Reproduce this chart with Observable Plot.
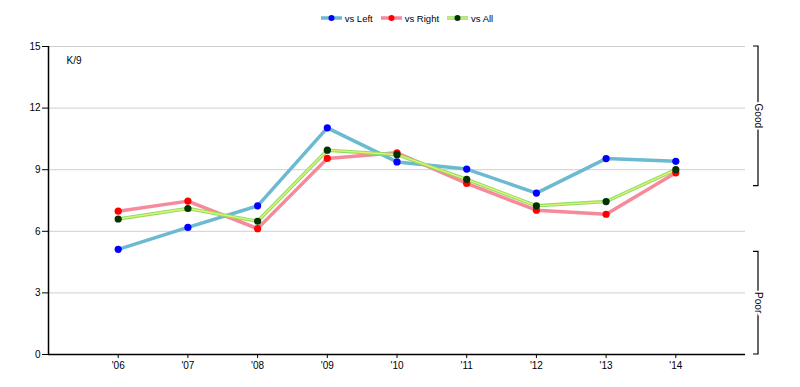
<!DOCTYPE html>
<html>
<head>
<meta charset="utf-8">
<script src="https://cdn.jsdelivr.net/npm/d3@7"></script>
<script src="https://cdn.jsdelivr.net/npm/@observablehq/plot@0.6"></script>
<style>
  body { margin: 0; background: #fff; font-family: "Liberation Sans", Arial, sans-serif; }
  #legend { height: 36px; display: flex; justify-content: center; align-items: center; padding-left: 14px; box-sizing: border-box; font-size: 9.5px; color: #000; }
  .item { display: flex; align-items: center; margin: 0 4px; }
  .item svg { margin-right: 3px; }
</style>
</head>
<body>
<div id="legend"></div>
<div id="chart"></div>
<script>
const years = [2006, 2007, 2008, 2009, 2010, 2011, 2012, 2013, 2014];
const vsLeft  = [5.12, 6.19, 7.24, 11.04, 9.38, 9.03, 7.86, 9.54, 9.41];
const vsRight = [6.98, 7.47, 6.13, 9.55, 9.82, 8.33, 7.03, 6.83, 8.85];
const vsAll   = [6.60, 7.11, 6.49, 9.95, 9.73, 8.53, 7.24, 7.45, 9.00];
const seriesNames = ["vs Left", "vs Right", "vs All"];
const yTicks = [0, 3, 6, 9, 12, 15];
const bands = [{label: "Good", lo: 8.2, hi: 15}, {label: "Poor", lo: 0, hi: 5}];
const metricLabel = "K/9";

const styles = {
  "vs Left":  {line: "#6cb9d2", inner: null, dot: "#0000ff"},
  "vs Right": {line: "#f7899a", inner: null, dot: "#ff0000"},
  "vs All":   {line: "#8fde6a", inner: "#e6f26c", dot: "#003300"}
};
const values = [vsLeft, vsRight, vsAll];
const data = [];
seriesNames.forEach((s, i) => years.forEach((y, j) => data.push({series: s, year: y, value: values[i][j]})));

// Legend
const legend = document.getElementById("legend");
seriesNames.forEach(s => {
  const st = styles[s];
  const item = document.createElement("div");
  item.className = "item";
  item.innerHTML = `<svg width="21" height="10"><line x1="0" x2="21" y1="5" y2="5" stroke="${st.line}" stroke-width="3.5"/>` +
    (st.inner ? `<line x1="0" x2="21" y1="5" y2="5" stroke="${st.inner}" stroke-width="1.3"/>` : "") +
    `<circle cx="10.5" cy="5" r="3" fill="${st.dot}"/></svg><span>${s}</span>`;
  legend.appendChild(item);
});

const bracketMark = (index, scales, vals, dims) => {
  const g = d3.create("svg:g");
  const x0 = dims.width - dims.marginRight + 13;
  bands.forEach(b => {
    const yTop = scales.y(b.hi), yBot = scales.y(b.lo);
    const path = `M${x0 - 5},${yTop}H${x0}V${yBot}H${x0 - 5}`;
    g.append("path").attr("d", path).attr("fill", "none").attr("stroke", "#000").attr("stroke-width", 1.2);
    const ym = (yTop + yBot) / 2;
    g.append("text").attr("transform", `translate(${x0},${ym}) rotate(90)`)
      .attr("text-anchor", "middle").attr("dy", "0.35em")
      .attr("font-size", 10).attr("stroke", "white").attr("stroke-width", 4).attr("paint-order", "stroke")
      .attr("fill", "#000").text(b.label);
  });
  return g.node();
};

const marks = [
  Plot.gridY(yTicks, {stroke: "#cfcfcf", strokeOpacity: 1, strokeWidth: 1}),
  Plot.axisY(yTicks, {tickSize: 6, tickPadding: 2, fontSize: 10, label: null}),
  Plot.axisX(years, {tickSize: 4, tickPadding: 3, fontSize: 10, label: null, tickFormat: d => "'" + String(d).slice(2)}),
  Plot.ruleX([2005], {stroke: "#000", strokeWidth: 1.5}),
  Plot.ruleY([0], {stroke: "#000", strokeWidth: 1.5}),
];
seriesNames.forEach(s => {
  const st = styles[s];
  const d = data.filter(r => r.series === s);
  marks.push(Plot.line(d, {x: "year", y: "value", stroke: st.line, strokeWidth: 3.5}));
  if (st.inner) marks.push(Plot.line(d, {x: "year", y: "value", stroke: st.inner, strokeWidth: 1.3}));
});
seriesNames.forEach(s => {
  const st = styles[s];
  marks.push(Plot.dot(data.filter(r => r.series === s), {x: "year", y: "value", r: 3.6, fill: st.dot}));
});
marks.push(Plot.text([metricLabel], {frameAnchor: "top-left", dx: 18, dy: 10, fontSize: 10}));
marks.push(bracketMark);

const chart = Plot.plot({
  width: 800,
  height: 351,
  marginLeft: 48,
  marginRight: 55,
  marginTop: 10,
  marginBottom: 33,
  style: {fontFamily: "'Liberation Sans', Arial, sans-serif", color: "#000", overflow: "visible"},
  x: {domain: [2005, 2015], axis: null},
  y: {domain: [0, 15], axis: null},
  marks
});
document.getElementById("chart").appendChild(chart);
</script>
</body>
</html>
